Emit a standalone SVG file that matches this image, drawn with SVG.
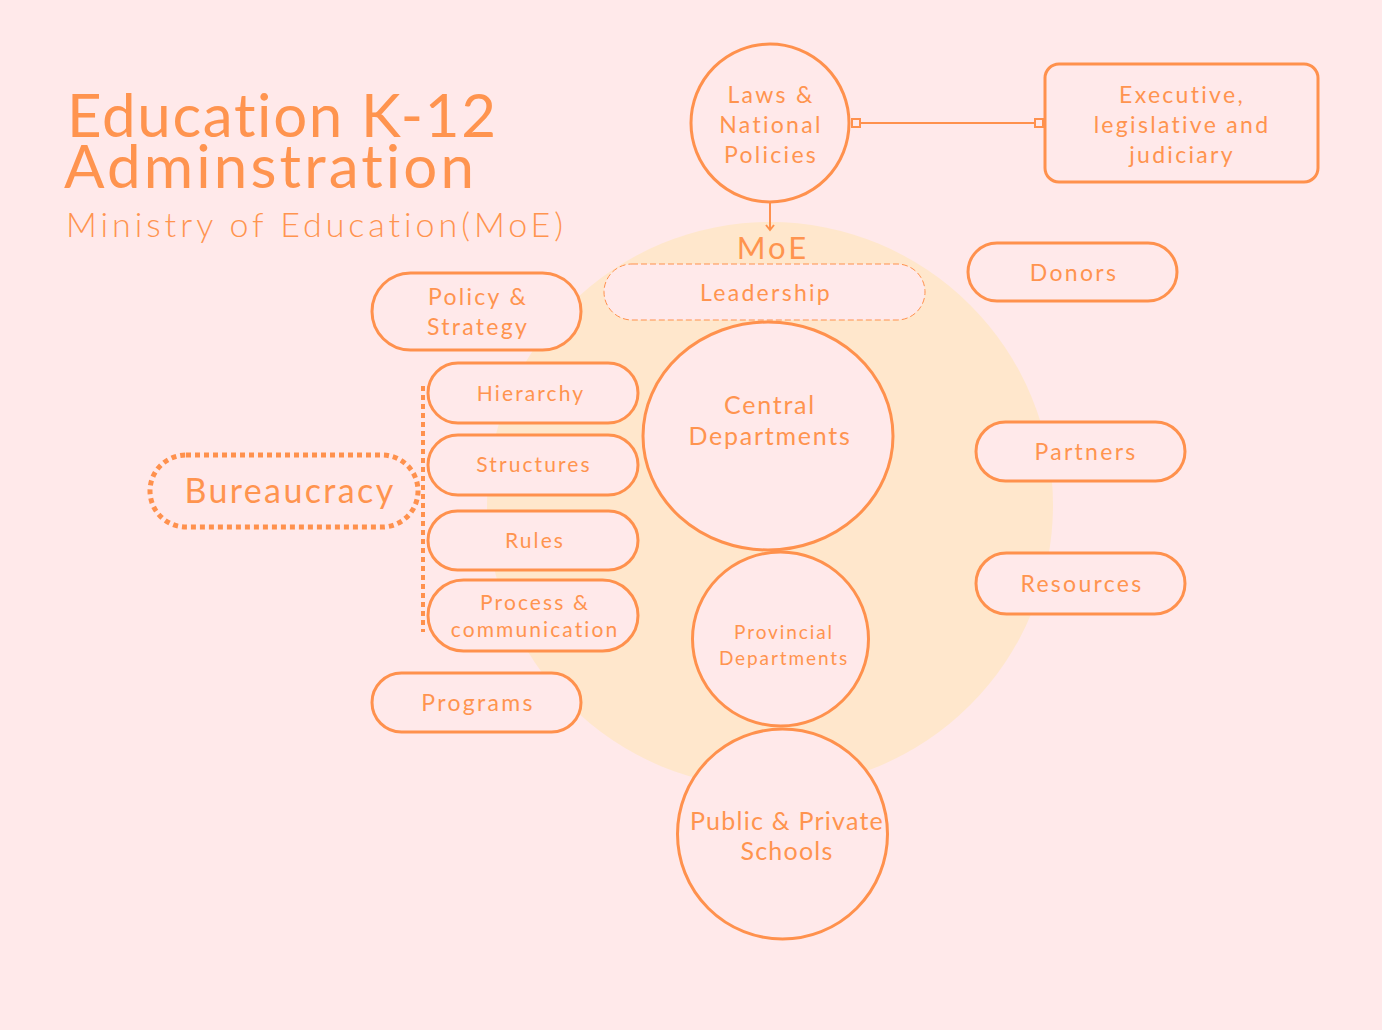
<svg xmlns="http://www.w3.org/2000/svg" width="1382" height="1030" viewBox="0 0 1382 1030">
<defs>
<style>
.n{fill:#FFE9EA;stroke:#FF914D;stroke-width:3}
.t{font-family:Lato,"Liberation Sans",sans-serif;font-weight:400;fill:#FF944F;text-anchor:middle;letter-spacing:0.1em;font-variant-ligatures:none}
.c{stroke:#FF914D;fill:none}
</style>
<marker id="sqs" viewBox="0 0 10 10" refX="0" refY="5" markerWidth="10" markerHeight="10" markerUnits="userSpaceOnUse" orient="auto">
<rect x="1" y="1" width="8" height="8" fill="#FFE9EA" stroke="#FF914D" stroke-width="2"/>
</marker>
<marker id="sqe" viewBox="0 0 10 10" refX="10" refY="5" markerWidth="10" markerHeight="10" markerUnits="userSpaceOnUse" orient="auto">
<rect x="1" y="1" width="8" height="8" fill="#FFE9EA" stroke="#FF914D" stroke-width="2"/>
</marker>
<marker id="arr" viewBox="0 0 12 12" refX="6" refY="10" markerWidth="12" markerHeight="12" markerUnits="userSpaceOnUse" orient="0">
<path d="M2 5 L6 10 L10 5" fill="none" stroke="#FF914D" stroke-width="2"/>
</marker>
</defs>
<rect width="1382" height="1030" fill="#FFE9EA"/>
<circle cx="770" cy="505" r="283" fill="#FFE7CC"/>
<g id="title" class="t" style="text-anchor:start;letter-spacing:0">
<text x="67" y="137" font-size="60" textLength="429" lengthAdjust="spacing">Education K-12</text>
<text x="64" y="188" font-size="60" textLength="410" lengthAdjust="spacing">Adminstration</text>
<text x="66" y="237" font-size="34" font-weight="300" textLength="497" lengthAdjust="spacing">Ministry of Education(MoE)</text>
</g>
<g id="connectors">
<line class="c" x1="851" y1="123" x2="1044" y2="123" stroke-width="2" marker-start="url(#sqs)" marker-end="url(#sqe)"/>
<line class="c" x1="770" y1="203" x2="770" y2="230" stroke-width="2" marker-end="url(#arr)"/>
<line class="c" x1="423" y1="386" x2="423" y2="632" stroke-width="4" stroke-dasharray="5 4"/>
</g>
<g id="laws"><circle class="n" cx="770" cy="123" r="79"/>
<text class="t" font-size="23" x="771" y="103">Laws &amp;</text><text class="t" font-size="23" x="771" y="133">National</text><text class="t" font-size="23" x="771" y="163">Policies</text></g>
<g id="executive"><rect class="n" x="1045" y="64" width="273" height="118" rx="14"/>
<text class="t" font-size="23" x="1182" y="103">Executive,</text><text class="t" font-size="23" x="1182" y="133">legislative and</text><text class="t" font-size="23" x="1182" y="163">judiciary</text></g>
<g id="moe"><text class="t" font-size="31" x="773" y="259" font-weight="300">MoE</text></g>
<g id="leadership"><rect x="604" y="264" width="321" height="56" rx="28" fill="#FFE9EA" stroke="#FF914D" stroke-width="1" stroke-dasharray="6 3"/>
<text class="t" font-size="23" x="766" y="301">Leadership</text></g>
<g id="central"><ellipse class="n" cx="768" cy="436" rx="125" ry="114"/>
<text class="t" font-size="25" x="770" y="414" style="letter-spacing:0.07em">Central</text><text class="t" font-size="25" x="770" y="445" style="letter-spacing:0.07em">Departments</text></g>
<g id="provincial"><ellipse class="n" cx="780.5" cy="639" rx="88" ry="87"/>
<text class="t" font-size="19" x="784" y="639">Provincial</text><text class="t" font-size="19" x="784" y="665">Departments</text></g>
<g id="schools"><circle class="n" cx="782.5" cy="834" r="105"/>
<text class="t" font-size="25" x="787" y="830" style="letter-spacing:0.05em">Public &amp; Private</text><text class="t" font-size="25" x="787" y="860" style="letter-spacing:0.05em">Schools</text></g>
<g id="policy"><rect class="n" x="372" y="273" width="209" height="77" rx="38.5"/>
<text class="t" font-size="23" x="478" y="305">Policy &amp;</text><text class="t" font-size="23" x="478" y="335">Strategy</text></g>
<g id="bureaucracy"><rect x="150" y="455" width="268" height="72" rx="36" fill="none" stroke="#FF914D" stroke-width="5" stroke-dasharray="5 4"/>
<text class="t" font-size="34" x="290" y="503" style="letter-spacing:0.07em">Bureaucracy</text></g>
<g id="hierarchy"><rect class="n" x="428" y="363" width="210" height="60" rx="30"/>
<text class="t" font-size="21" x="531" y="401">Hierarchy</text></g>
<g id="structures"><rect class="n" x="428" y="435" width="210" height="60" rx="30"/>
<text class="t" font-size="21" x="534" y="472">Structures</text></g>
<g id="rules"><rect class="n" x="428" y="511" width="210" height="59" rx="29.5"/>
<text class="t" font-size="21" x="535" y="548">Rules</text></g>
<g id="process"><rect class="n" x="428" y="580" width="210" height="71" rx="35.5"/>
<text class="t" font-size="21" x="535" y="610">Process &amp;</text><text class="t" font-size="21" x="535" y="637">communication</text></g>
<g id="programs"><rect class="n" x="372" y="673" width="209" height="59" rx="29.5"/>
<text class="t" font-size="23" x="478" y="711">Programs</text></g>
<g id="donors"><rect class="n" x="968" y="243" width="209" height="58" rx="29"/>
<text class="t" font-size="23" x="1074" y="281">Donors</text></g>
<g id="partners"><rect class="n" x="976" y="422" width="209" height="59" rx="29.5"/>
<text class="t" font-size="23" x="1086" y="460">Partners</text></g>
<g id="resources"><rect class="n" x="976" y="553" width="209" height="61" rx="30.5"/>
<text class="t" font-size="23" x="1082" y="592">Resources</text></g>
</svg>
